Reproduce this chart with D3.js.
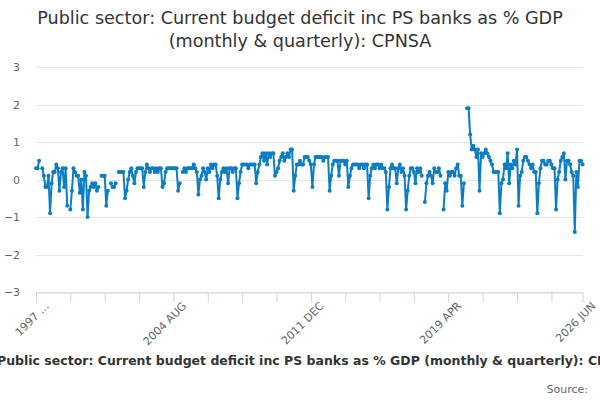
<!DOCTYPE html>
<html>
<head>
<meta charset="utf-8">
<script src="https://cdn.jsdelivr.net/npm/d3@7"></script>
<style>
  body { margin: 0; background: #fff; }
  text { font-family: "DejaVu Sans", sans-serif; }
</style>
</head>
<body>
<script>
// monthly values, 1997 APR .. 2026 JUN (null = no value)
const values = [
  // 1997 APR - 1998 MAR
  0.3, 0.3, 0.5, null, 0.3, 0.1, -0.2, -0.2, 0.1, -0.9, -0.1, 0.2,
  // 1998
  0.2, 0.4, 0.3, -0.3, 0.2, 0.3, -0.2, 0.3, -0.7, null, -0.8, -0.3,
  // 1999
  0.3, 0.2, 0.1, 0.1, -0.35, 0.0, -0.8, 0.2, 0.1, -1.0, -0.3, -0.2,
  // 2000
  -0.1, -0.2, -0.1, -0.3, -0.2, null, 0.1, 0.1, 0.1, -0.7, -0.3, null,
  // 2001
  -0.1, -0.2, -0.2, -0.1, null, 0.2, 0.2, 0.2, 0.2, -0.5, -0.3, 0.0,
  // 2002
  0.2, 0.3, 0.1, -0.1, 0.2, 0.3, 0.3, 0.3, 0.3, -0.2, 0.2, 0.4,
  // 2003
  0.3, 0.2, 0.3, 0.3, 0.2, 0.3, 0.2, 0.3, 0.3, -0.2, -0.1, 0.2,
  // 2004
  0.3, 0.3, 0.3, 0.3, 0.3, 0.3, 0.3, -0.3, -0.1, null, 0.2, 0.3,
  // 2005
  0.2, 0.3, 0.3, 0.3, 0.3, 0.4, 0.3, 0.2, -0.4, 0.0, 0.1, 0.3,
  // 2006
  0.2, 0.0, 0.3, 0.2, 0.4, 0.3, 0.4, 0.4, 0.1, -0.5, 0.0, 0.2,
  // 2007
  0.3, 0.2, 0.3, -0.1, 0.3, 0.3, 0.2, 0.3, 0.3, -0.5, -0.1, 0.2,
  // 2008
  0.4, 0.4, 0.4, 0.4, 0.3, 0.4, 0.4, 0.4, 0.4, -0.1, 0.2, 0.4,
  // 2009
  0.6, 0.7, 0.5, 0.7, 0.4, 0.7, 0.6, 0.7, 0.7, 0.1, 0.2, 0.3,
  // 2010
  0.5, 0.6, 0.7, 0.5, 0.6, 0.7, 0.6, 0.8, 0.8, -0.3, 0.1, 0.4,
  // 2011
  0.4, 0.5, 0.4, 0.4, 0.6, 0.6, 0.6, 0.5, 0.4, -0.2, 0.4, 0.6,
  // 2012
  0.6, 0.6, 0.6, 0.6, 0.5, 0.6, 0.6, 0.6, -0.3, 0.1, 0.4, 0.5,
  // 2013
  0.5, 0.5, 0.1, 0.5, 0.5, 0.5, 0.4, 0.5, -0.2, 0.1, 0.3, 0.4,
  // 2014
  0.4, 0.4, 0.4, 0.3, 0.4, 0.4, 0.3, 0.4, 0.4, -0.5, 0.1, 0.3,
  // 2015
  0.4, 0.3, 0.4, 0.4, 0.3, 0.4, 0.3, 0.3, 0.2, -0.8, -0.2, 0.3,
  // 2016
  0.4, 0.3, 0.3, -0.1, 0.3, 0.4, 0.2, 0.3, 0.1, -0.8, -0.3, 0.1,
  // 2017
  0.3, 0.3, 0.2, -0.1, 0.3, 0.2, 0.3, 0.1, null, -0.6, -0.1, 0.1,
  // 2018
  0.2, 0.1, -0.1, 0.3, 0.2, 0.2, 0.3, 0.1, null, -0.8, -0.1, -0.3,
  // 2019
  0.2, 0.1, 0.2, 0.2, 0.1, 0.3, 0.4, 0.1, 0.1, -0.7, -0.1, null,
  // 2020
  1.9, 1.9, 1.2, 0.8, 0.9, 0.8, 0.6, 0.8, -0.3, 0.7, 0.6, 0.7,
  // 2021
  0.8, 0.7, 0.6, 0.5, 0.4, 0.2, 0.2, 0.2, 0.2, -0.9, -0.1, 0.0,
  // 2022
  0.4, 0.3, 0.7, -0.1, 0.4, 0.3, 0.5, 0.4, 0.8, -0.7, 0.1, 0.2,
  // 2023
  0.5, 0.6, 0.6, 0.5, 0.4, 0.3, 0.4, 0.2, 0.2, -0.9, -0.1, 0.3,
  // 2024
  0.5, 0.5, 0.4, 0.4, 0.5, 0.5, 0.4, 0.3, 0.3, -0.8, 0.0, 0.2,
  // 2025
  0.5, 0.6, 0.7, 0.0, 0.5, 0.5, 0.4, 0.2, 0.1, -1.4, 0.2, -0.2,
  // 2026 APR - JUN
  0.5, 0.5, 0.4
];

const monthNames = ["JAN", "FEB", "MAR", "APR", "MAY", "JUN", "JUL", "AUG", "SEP", "OCT", "NOV", "DEC"];
// category labels, one per value, starting 1997 APR
const categories = values.map((v, i) => {
  const m = 3 + i;
  return (1997 + Math.floor(m / 12)) + " " + monthNames[m % 12];
});

const yTicks = [-3, -2, -1, 0, 1, 2, 3];
const xTickStep = 22;
const xLabelIdx = [0, 88, 176, 264, 350];

const titleLines = ["Public sector: Current budget deficit inc PS banks as % GDP", "(monthly & quarterly): CPNSA"];
const footerTitle = "Public sector: Current budget deficit inc PS banks as % GDP (monthly & quarterly): CPNSA";

const W = 600, H = 400;
const plotLeft = 36, plotRight = 582.6, plotTop = 67, plotBottom = 292;
const blue = "#0b7dc4";

const svg = d3.select("body").append("svg")
  .attr("width", W)
  .attr("height", H);

const x = d3.scaleLinear().domain([0, values.length - 1]).range([plotLeft, plotRight]);
const y = d3.scaleLinear().domain([-3, 3]).range([plotBottom, plotTop]);

// title
svg.append("g").selectAll("text")
  .data(titleLines)
  .join("text")
  .attr("x", W / 2)
  .attr("y", (d, i) => 24 + i * 23)
  .attr("text-anchor", "middle")
  .attr("font-size", "17.6px")
  .attr("fill", "#333")
  .text(d => d);

// grid lines
svg.append("g").selectAll("line")
  .data(yTicks)
  .join("line")
  .attr("x1", plotLeft)
  .attr("x2", plotRight)
  .attr("y1", d => Math.round(y(d)) + 0.5)
  .attr("y2", d => Math.round(y(d)) + 0.5)
  .attr("stroke", "#e6e6e6");

// y axis labels
const yAxis = svg.append("g")
  .attr("transform", "translate(" + plotLeft + ",0)")
  .call(d3.axisLeft(y).tickValues(yTicks).tickSize(0).tickPadding(16).tickFormat(d3.format("d")));
yAxis.select(".domain").remove();
yAxis.selectAll("text")
  .attr("fill", "#666")
  .attr("font-size", "11px")
  .attr("font-family", "DejaVu Sans, sans-serif");

// x axis
const tickIdx = d3.range(0, values.length, xTickStep).concat([values.length - 1]);
const xAxis = svg.append("g")
  .attr("transform", "translate(0," + (plotBottom + 0.5) + ")")
  .call(d3.axisBottom(x).tickValues(tickIdx).tickSize(10).tickSizeOuter(0)
    .tickFormat(i => {
      if (xLabelIdx.indexOf(i) < 0) return "";
      return i === 0 ? categories[i].slice(0, 4) + " …" : categories[i];
    }));
xAxis.select(".domain").attr("stroke", "#ccd6eb");
xAxis.selectAll(".tick line").attr("stroke", "#ccd6eb");
xAxis.selectAll("text")
  .attr("fill", "#666")
  .attr("font-size", "11px")
  .attr("font-family", "DejaVu Sans, sans-serif")
  .attr("text-anchor", "end")
  .attr("dy", "0")
  .attr("transform", "translate(4,5) rotate(-45)");

// line
const line = d3.line()
  .defined(d => d != null)
  .x((d, i) => x(i))
  .y(d => y(d));

svg.append("path")
  .datum(values)
  .attr("fill", "none")
  .attr("stroke", blue)
  .attr("stroke-width", 2)
  .attr("stroke-linejoin", "round")
  .attr("d", line);

// markers
svg.append("g").selectAll("circle")
  .data(values.map((v, i) => ({ v, i })).filter(d => d.v != null))
  .join("circle")
  .attr("cx", d => x(d.i))
  .attr("cy", d => y(d.v))
  .attr("r", 2)
  .attr("fill", blue);

// footer (runs past both edges, as in the original)
svg.append("text")
  .attr("x", -3)
  .attr("y", 365)
  .attr("text-anchor", "start")
  .attr("font-size", "12.5px")
  .attr("font-weight", "bold")
  .attr("fill", "#333")
  .text(footerTitle);

svg.append("text")
  .attr("x", 588)
  .attr("y", 393)
  .attr("text-anchor", "end")
  .attr("font-size", "11px")
  .attr("fill", "#666")
  .text("Source:");
</script>
</body>
</html>
